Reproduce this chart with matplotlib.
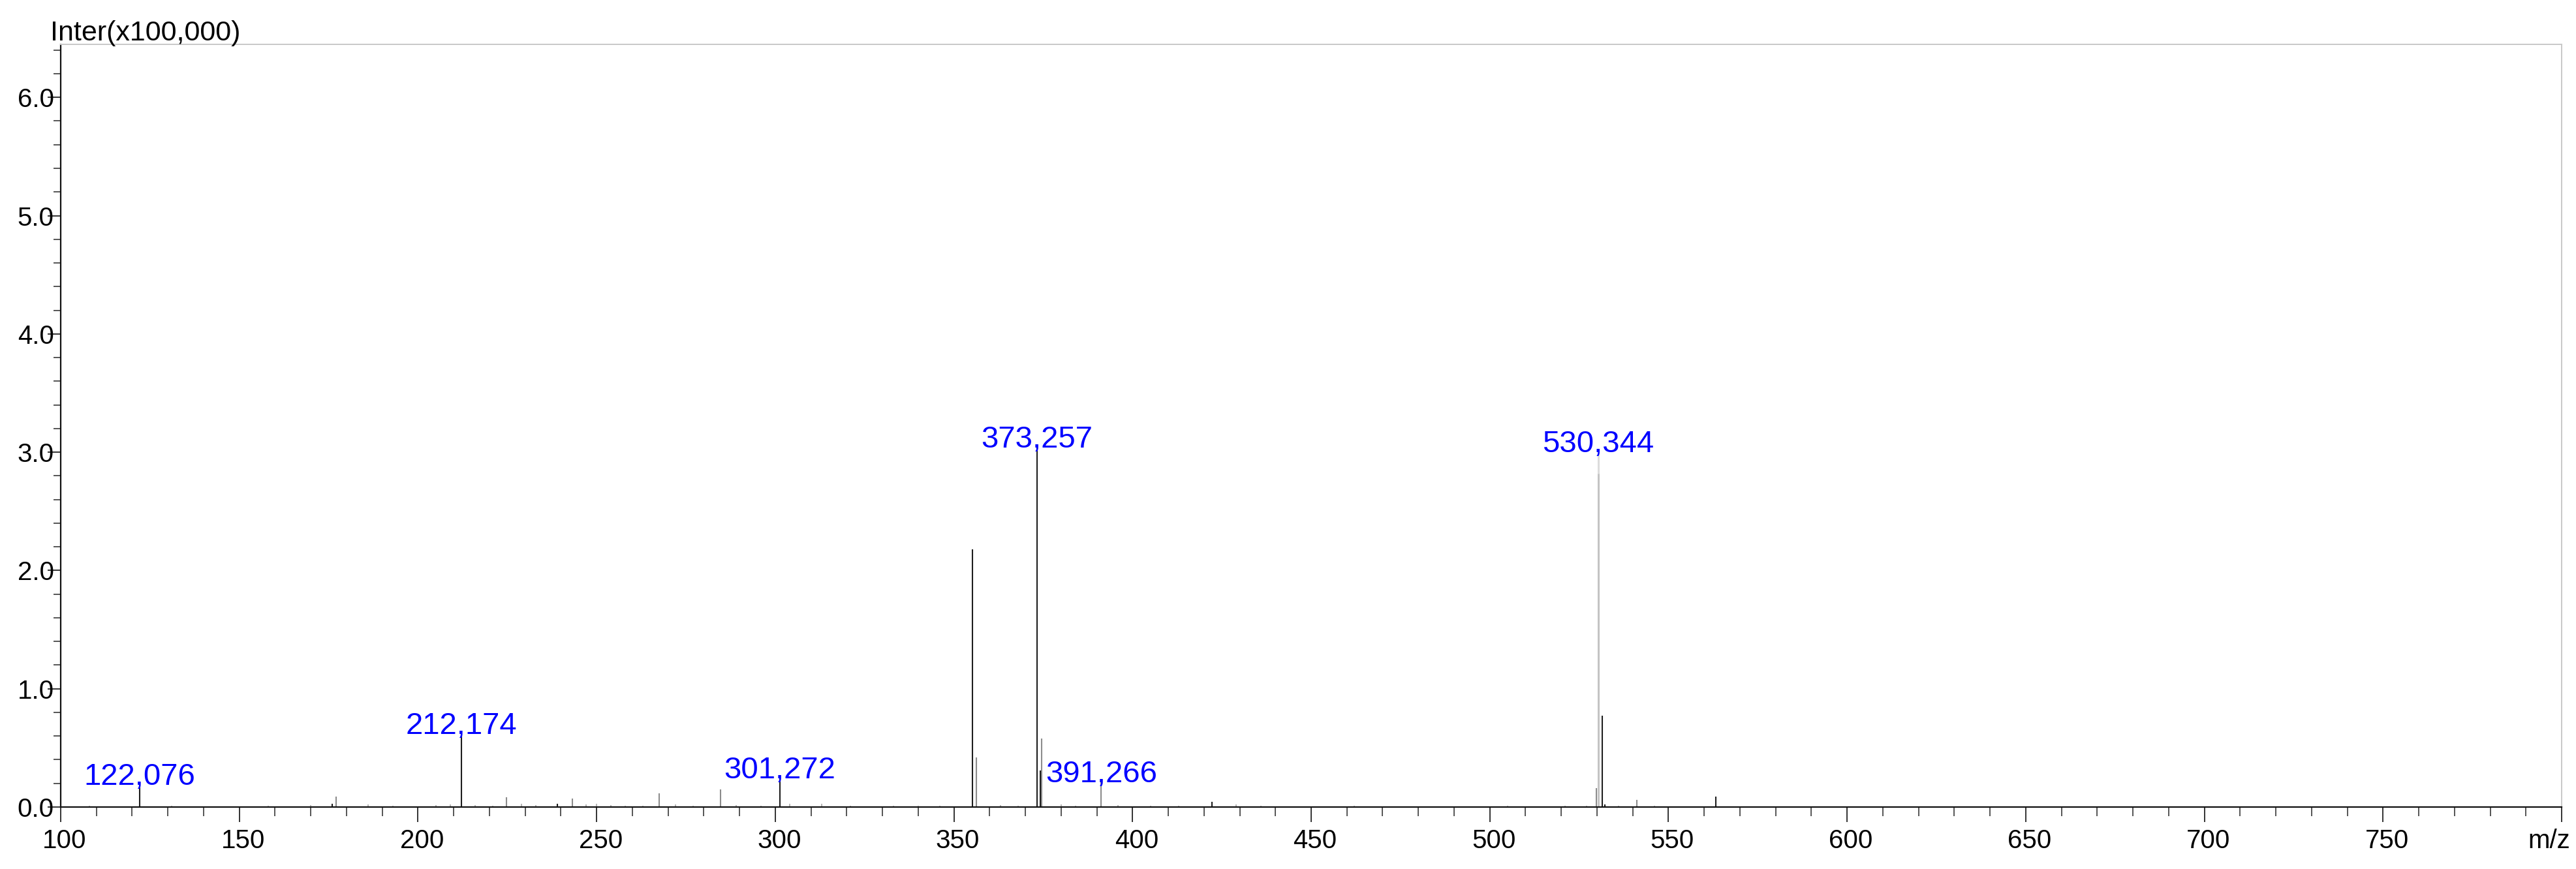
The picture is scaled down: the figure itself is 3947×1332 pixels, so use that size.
import matplotlib
matplotlib.use("Agg")
import matplotlib.pyplot as plt
import matplotlib.transforms as mtransforms
from matplotlib.ticker import MultipleLocator, FormatStrFormatter

plt.rcParams['font.family'] = ['Liberation Sans', 'DejaVu Sans']

# main peaks (m/z, intensity x100,000)
dark_mz = [122.08, 176.0, 212.17, 239.0, 301.27, 355.2, 373.26, 374.2,
           422.3, 531.4, 532.2, 563.3]
dark_int = [0.19, 0.03, 0.62, 0.03, 0.245, 2.18, 3.04, 0.31,
            0.045, 0.77, 0.02, 0.09]

gray_mz = [177.0, 224.8, 243.2, 267.5, 284.6, 356.2, 374.5, 391.27,
           529.9, 541.1]
gray_int = [0.09, 0.085, 0.07, 0.115, 0.15, 0.42, 0.58, 0.21,
            0.16, 0.06]

light_mz = [530.34, 530.3]
light_int = [3.0, 2.82]
light_col = ['#dcdcdc', '#c4c4c4']

# small noise peaks near the baseline
noise_mz = [108, 131, 158, 170, 186, 193, 205, 209, 216, 221, 229, 233,
            247, 250, 254, 258, 263, 272, 277, 289, 296, 304, 313, 321,
            333, 340, 346, 363, 368, 380, 384, 396, 405, 413, 429, 436,
            462, 505, 521, 527, 536, 546]
noise_int = [0.01, 0.012, 0.01, 0.015, 0.02, 0.012, 0.015, 0.02, 0.018, 0.012,
             0.03, 0.015, 0.02, 0.025, 0.015, 0.01, 0.012, 0.02, 0.012, 0.018,
             0.01, 0.03, 0.025, 0.01, 0.012, 0.01, 0.012, 0.015, 0.01, 0.02,
             0.012, 0.015, 0.01, 0.012, 0.02, 0.01, 0.01, 0.01, 0.01, 0.012,
             0.01, 0.01]

label_mz = [122.076, 212.174, 301.272, 373.257, 391.266, 530.344]
label_int = [0.19, 0.62, 0.245, 3.04, 0.21, 3.0]
label_txt = ['122,076', '212,174', '301,272', '373,257', '391,266', '530,344']

W, H = 3948, 1332
fig = plt.figure(figsize=(W / 100, H / 100), dpi=100)
ax = fig.add_axes([93 / W, 95 / H, (3925 - 93) / W, (1237 - 68) / H])

ax.vlines(noise_mz, 0, noise_int, colors='#b0b0b0', linewidth=1.3)
ax.vlines(gray_mz, 0, gray_int, colors='#8c8c8c', linewidth=1.5)
ax.vlines(light_mz, 0, light_int, colors=light_col, linewidth=2.2)
ax.vlines(dark_mz, 0, dark_int, colors='#1e1e1e', linewidth=1.5)

for mz, h, t in zip(label_mz, label_int, label_txt):
    ax.text(mz, h, t, color='#0000ff', fontsize=34, ha='center', va='baseline')

ax.set_xlim(100, 800)
ax.set_ylim(0, 6.448)

ax.xaxis.set_major_locator(MultipleLocator(50))
ax.xaxis.set_minor_locator(MultipleLocator(10))
ax.yaxis.set_major_locator(MultipleLocator(1))
ax.yaxis.set_minor_locator(MultipleLocator(0.2))
ax.yaxis.set_major_formatter(FormatStrFormatter('%.1f'))
ax.set_xticks([100, 150, 200, 250, 300, 350, 400, 450, 500, 550, 600, 650, 700, 750, 800])
ax.set_xticklabels(['100', '150', '200', '250', '300', '350', '400', '450', '500',
                    '550', '600', '650', '700', '750', ''])

ax.tick_params(axis='x', which='major', length=16.5, width=1.4, color='#333333',
               labelsize=29, pad=7)
ax.tick_params(axis='x', which='minor', length=10, width=1.4, color='#555555')
ax.tick_params(axis='y', which='major', length=14.4, width=1.4, color='#333333',
               labelsize=29, pad=-7)
ax.tick_params(axis='y', which='minor', length=8, width=1.4, color='#555555')

for s in ['left', 'bottom']:
    ax.spines[s].set_color('#111111')
    ax.spines[s].set_linewidth(1.6)
for s in ['top', 'right']:
    ax.spines[s].set_color('#c8c8c8')
    ax.spines[s].set_linewidth(1.4)

offset = mtransforms.ScaledTranslation(6 / 100, 0, fig.dpi_scale_trans)
for lab in ax.get_xticklabels():
    lab.set_transform(lab.get_transform() + offset)

fig.text(77 / W, 1 - 62 / H, 'Inter(x100,000)', fontsize=31, ha='left', va='baseline')
fig.text(3938 / W, 1 - 1300 / H, 'm/z', fontsize=29, ha='right', va='baseline')

fig.savefig('out.png', dpi=100)
